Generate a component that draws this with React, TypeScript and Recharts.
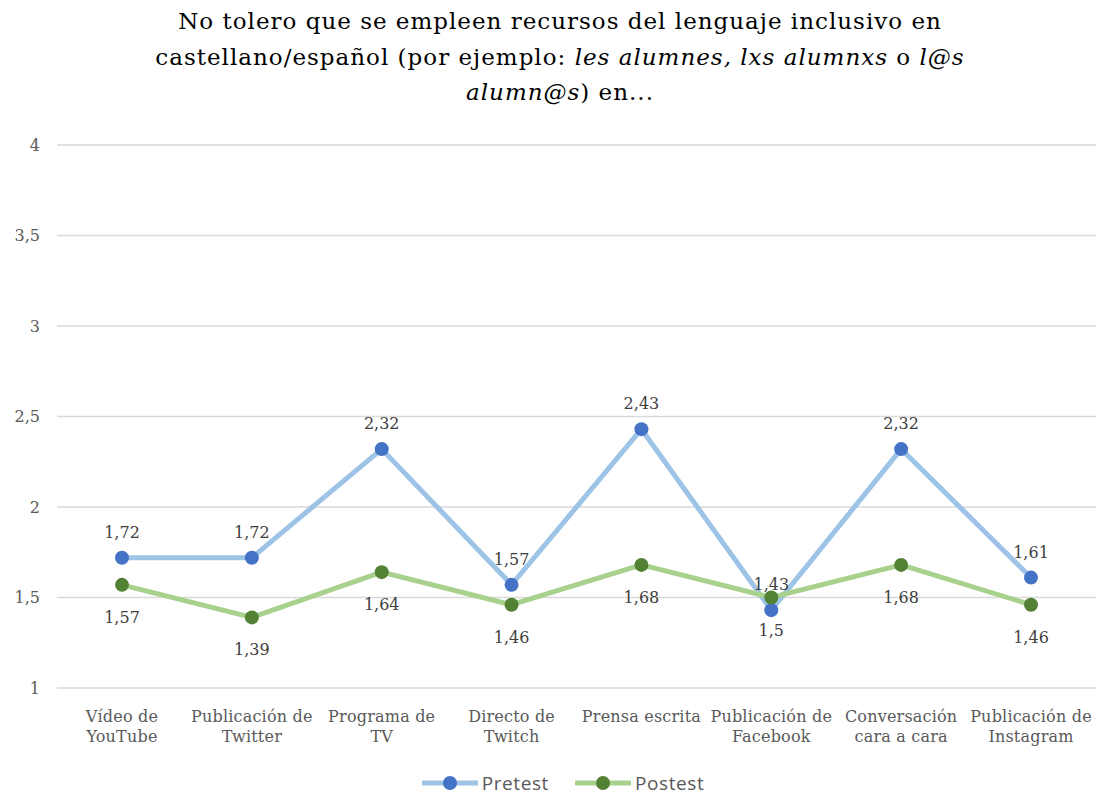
import { LineChart, Line, XAxis, YAxis, CartesianGrid, Legend } from "recharts";

const categories = [
  "Vídeo de YouTube",
  "Publicación de Twitter",
  "Programa de TV",
  "Directo de Twitch",
  "Prensa escrita",
  "Publicación de Facebook",
  "Conversación cara a cara",
  "Publicación de Instagram",
];
const tickLines = [
  ["Vídeo de", "YouTube"],
  ["Publicación de", "Twitter"],
  ["Programa de", "TV"],
  ["Directo de", "Twitch"],
  ["Prensa escrita"],
  ["Publicación de", "Facebook"],
  ["Conversación", "cara a cara"],
  ["Publicación de", "Instagram"],
];
const pretest = [1.72, 1.72, 2.32, 1.57, 2.43, 1.43, 2.32, 1.61];
const postest = [1.57, 1.39, 1.64, 1.46, 1.68, 1.5, 1.68, 1.46];
const yTicks = [1, 1.5, 2, 2.5, 3, 3.5, 4];

const data = categories.map((name, i) => ({ name, pretest: pretest[i], postest: postest[i] }));

const SERIF = "'DejaVu Serif', serif";
const fmt = (v: number) => String(v).replace(".", ",");

const CategoryTick = (props: any) => {
  const { x, y, index } = props;
  const lines = tickLines[index] || [];
  return (
    <text x={x} y={y} textAnchor="middle" fill="#595959" fontFamily={SERIF} fontSize={16} letterSpacing={0.2}>
      {lines.map((l, i) => (
        <tspan key={i} x={x} dy={i === 0 ? 34 : 20}>
          {l}
        </tspan>
      ))}
    </text>
  );
};

const labelAbove = (props: any) => (
  <text x={props.x} y={props.y - 20} textAnchor="middle" fill="#404040" fontFamily={SERIF} fontSize={16}>
    {fmt(props.value)}
  </text>
);
const labelBelow = (props: any) => (
  <text x={props.x} y={props.y + 38} textAnchor="middle" fill="#404040" fontFamily={SERIF} fontSize={16}>
    {fmt(props.value)}
  </text>
);

const legendItems = [
  { name: "Pretest", line: "#9DC3E6", dot: "#4472C4" },
  { name: "Postest", line: "#A9D18E", dot: "#548235" },
];

const renderLegend = () => (
  <div
    style={{
      display: "flex",
      justifyContent: "center",
      alignItems: "center",
      height: 20,
      paddingTop: 9,
      paddingLeft: 30,
      gap: 26,
    }}
  >
    {legendItems.map((it) => (
      <div key={it.name} style={{ display: "flex", alignItems: "center", height: 20 }}>
        <svg width={56} height={16}>
          <line x1={1} y1={8} x2={55} y2={8} stroke={it.line} strokeWidth={5} strokeLinecap="round" />
          <circle cx={28} cy={8} r={7} fill={it.dot} />
        </svg>
        <span
          style={{
            fontFamily: "'Open Sans', sans-serif",
            fontSize: 19,
            lineHeight: "20px",
            color: "#595959",
            marginLeft: 4,
            letterSpacing: 0.6,
          }}
        >
          {it.name}
        </span>
      </div>
    ))}
  </div>
);

export default function App() {
  return (
    <div style={{ position: "absolute", left: 0, top: 0, width: 1096, height: 794, background: "#fff" }}>
      <div
        style={{
          position: "absolute",
          top: 4,
          left: 24,
          width: 1072,
          textAlign: "center",
          fontFamily: SERIF,
          fontSize: 23,
          letterSpacing: 1,
          lineHeight: "35.5px",
          color: "#000",
        }}
      >
        No tolero que se empleen recursos del lenguaje inclusivo en
        <br />
        castellano/español (por ejemplo: <i>les alumnes, lxs alumnxs</i> o <i>l@s</i>
        <br />
        <i>alumn@s</i>) en...
      </div>
      <LineChart width={1096} height={794} data={data} margin={{ top: 145, right: 0, left: 0, bottom: 0 }}>
        <CartesianGrid horizontal vertical={false} stroke="#d9d9d9" strokeWidth={1.5} />
        <XAxis
          dataKey="name"
          height={76}
          axisLine={false}
          tickLine={false}
          tickSize={0}
          tickMargin={0}
          interval={0}
          padding={{ left: 65, right: 65 }}
          tick={<CategoryTick />}
        />
        <YAxis
          width={57}
          domain={[1, 4]}
          ticks={yTicks}
          axisLine={false}
          tickLine={false}
          tickSize={0}
          tickMargin={17}
          tickFormatter={fmt}
          tick={{ fill: "#595959", fontFamily: SERIF, fontSize: 16 }}
        />
        <Legend verticalAlign="bottom" height={30} content={renderLegend} />
        <Line
          dataKey="pretest"
          name="Pretest"
          stroke="#9DC3E6"
          strokeWidth={5}
          dot={{ r: 7, fill: "#4472C4", stroke: "none" }}
          activeDot={false}
          label={labelAbove}
          isAnimationActive={false}
        />
        <Line
          dataKey="postest"
          name="Postest"
          stroke="#A9D18E"
          strokeWidth={5}
          dot={{ r: 7, fill: "#548235", stroke: "none" }}
          activeDot={false}
          label={labelBelow}
          isAnimationActive={false}
        />
      </LineChart>
    </div>
  );
}
